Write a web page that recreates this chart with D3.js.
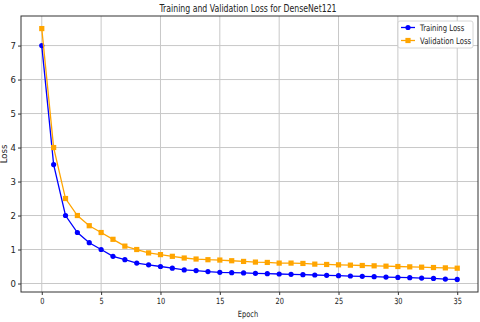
<!DOCTYPE html>
<html>
<head>
<meta charset="utf-8">
<script src="https://cdn.jsdelivr.net/npm/d3@7"></script>
<style>
  body { margin: 0; background: #fff; }
  text { font-family: "DejaVu Sans", sans-serif; fill: #222; }
</style>
</head>
<body>
<div id="chart"></div>
<script>
// valores
const epochs = d3.range(0, 36);
const trainLoss = [7.0, 3.5, 2.0, 1.5, 1.2, 1.0, 0.8, 0.7, 0.6, 0.55, 0.5, 0.45, 0.4, 0.38, 0.35, 0.33,
  0.32, 0.31, 0.30, 0.29, 0.28, 0.27, 0.26, 0.25, 0.24, 0.23, 0.22, 0.21, 0.20, 0.19, 0.18, 0.17,
  0.16, 0.15, 0.13, 0.12];
const valLoss = [7.5, 4.0, 2.5, 2.0, 1.7, 1.5, 1.3, 1.1, 1.0, 0.9, 0.85, 0.8, 0.75, 0.72, 0.70, 0.69,
  0.67, 0.65, 0.63, 0.62, 0.60, 0.60, 0.59, 0.57, 0.56, 0.55, 0.54, 0.53, 0.52, 0.51, 0.50, 0.49,
  0.48, 0.47, 0.46, 0.45];
const xTicks = [0, 5, 10, 15, 20, 25, 30, 35];
const yTicks = [0, 1, 2, 3, 4, 5, 6, 7];
const series = [
  { name: "Training Loss", values: trainLoss, color: "#0000ff", marker: "circle" },
  { name: "Validation Loss", values: valLoss, color: "#ffa500", marker: "square" }
];

const WIDTH = 480, HEIGHT = 322;
const margin = { left: 21, right: 2, top: 16, bottom: 30 };
const SX = 0.78; // la imagen original esta comprimida en horizontal

var svg = d3.select("#chart").append("svg")
  .attr("width", WIDTH).attr("height", HEIGHT);

var x = d3.scaleLinear().domain([-1.75, 36.75]).range([margin.left, WIDTH - margin.right]);
var y = d3.scaleLinear().domain([-0.25, 7.87]).range([HEIGHT - margin.bottom, margin.top]);

// rejilla
svg.append("g").selectAll("line").data(xTicks).enter().append("line")
  .attr("x1", d => x(d)).attr("x2", d => x(d))
  .attr("y1", margin.top).attr("y2", HEIGHT - margin.bottom)
  .style("stroke", "#c8c8c8").style("stroke-width", 1);
svg.append("g").selectAll("line").data(yTicks).enter().append("line")
  .attr("y1", d => y(d)).attr("y2", d => y(d))
  .attr("x1", margin.left).attr("x2", WIDTH - margin.right)
  .style("stroke", "#c8c8c8").style("stroke-width", 1);

// ejes
var xAxis = svg.append("g")
  .attr("transform", "translate(0," + (HEIGHT - margin.bottom) + ")")
  .call(d3.axisBottom(x).tickValues(xTicks).tickSize(3).tickPadding(3).tickSizeOuter(0));
var yAxis = svg.append("g")
  .attr("transform", "translate(" + margin.left + ",0)")
  .call(d3.axisLeft(y).tickValues(yTicks).tickSize(3).tickPadding(2).tickSizeOuter(0));
[xAxis, yAxis].forEach(function (a) {
  a.select(".domain").remove();
  a.selectAll("line").style("stroke", "#333");
  a.selectAll("text").style("font-size", "8.5px").style("fill", "#222")
    .attr("font-family", "DejaVu Sans");
});
xAxis.selectAll(".tick text").attr("transform", "scale(" + SX + ",1)");

// marco
svg.append("rect")
  .attr("x", margin.left).attr("y", margin.top)
  .attr("width", WIDTH - margin.right - margin.left)
  .attr("height", HEIGHT - margin.bottom - margin.top)
  .style("fill", "none").style("stroke", "#333").style("stroke-width", 1);

// lineas y marcadores
var line = d3.line().x((d, i) => x(epochs[i])).y(d => y(d));
series.forEach(function (s) {
  svg.append("path").datum(s.values)
    .attr("d", line)
    .style("fill", "none").style("stroke", s.color).style("stroke-width", 1.3);
  var g = svg.append("g");
  if (s.marker == "circle") {
    g.selectAll("circle").data(s.values).enter().append("circle")
      .attr("cx", (d, i) => x(epochs[i])).attr("cy", d => y(d))
      .attr("r", 2.6).style("fill", s.color);
  } else {
    g.selectAll("rect").data(s.values).enter().append("rect")
      .attr("x", (d, i) => x(epochs[i]) - 2.6).attr("y", d => y(d) - 2.6)
      .attr("width", 5.2).attr("height", 5.2).style("fill", s.color);
  }
});

// titulo y etiquetas
svg.append("text")
  .attr("transform", "translate(248,12) scale(" + SX + ",1)")
  .attr("text-anchor", "middle").style("font-size", "10px")
  .text("Training and Validation Loss for DenseNet121");
svg.append("text")
  .attr("transform", "translate(248,317) scale(" + SX + ",1)")
  .attr("text-anchor", "middle").style("font-size", "8.5px")
  .text("Epoch");
svg.append("text")
  .attr("transform", "translate(7,154) rotate(-90)")
  .attr("text-anchor", "middle").style("font-size", "8.5px")
  .text("Loss");

// leyenda
var leg = svg.append("g").attr("transform", "translate(398,21)");
leg.append("rect").attr("width", 75).attr("height", 27).attr("rx", 2)
  .style("fill", "#fff").style("stroke", "#ccc").style("stroke-width", 0.8);
series.forEach(function (s, i) {
  var yy = 6.5 + i * 13;
  leg.append("line").attr("x1", 3).attr("x2", 17).attr("y1", yy).attr("y2", yy)
    .style("stroke", s.color).style("stroke-width", 1.3);
  if (s.marker == "circle") {
    leg.append("circle").attr("cx", 10).attr("cy", yy).attr("r", 2.6).style("fill", s.color);
  } else {
    leg.append("rect").attr("x", 7.4).attr("y", yy - 2.6).attr("width", 5.2).attr("height", 5.2)
      .style("fill", s.color);
  }
  leg.append("text")
    .attr("transform", "translate(22," + (yy + 3) + ") scale(" + SX + ",1)")
    .style("font-size", "8.8px").text(s.name);
});
</script>
</body>
</html>
